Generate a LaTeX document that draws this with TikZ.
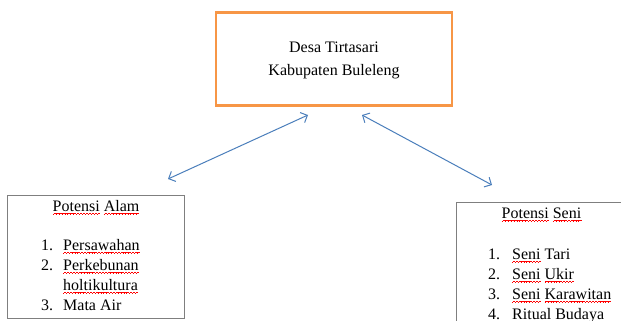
\documentclass[tikz,border=0pt]{standalone}
\usepackage{fontspec}
\setmainfont{Liberation Serif}
\usetikzlibrary{arrows.meta}
\definecolor{desaorange}{HTML}{F79646}
\definecolor{panahblue}{HTML}{4A7EBB}
\definecolor{boxgray}{HTML}{7F7F7F}
\newsavebox{\salahbox}
\newcommand{\salahgelombang}{\hbox{\rule[-3.4pt]{.7pt}{.6pt}\rule[-2.9pt]{.7pt}{.6pt}\rule[-2.4pt]{.7pt}{.6pt}\rule[-2.9pt]{.7pt}{.6pt}}}
\newcommand{\salah}[1]{\sbox{\salahbox}{#1}%
  \rlap{\color{red}\hbox to \wd\salahbox{\xleaders\salahgelombang\hfill}}\usebox{\salahbox}}

\begin{document}
\begin{tikzpicture}[x=1pt,y=-1pt]
  \tikzstyle{every node}=[font=\fontsize{16}{20}\selectfont, inner sep=0pt]
  \tikzstyle{desabox}=[draw=desaorange, line width=2.6pt, minimum width=236pt, minimum height=93pt, align=center]
  \tikzstyle{potensibox}=[draw=boxgray, line width=0.8pt]
  \tikzstyle{panah}=[draw=panahblue, line width=1pt, {Straight Barb[length=5.5pt,width=11pt]}-{Straight Barb[length=5.5pt,width=11pt]}]
  \useasboundingbox (0,0) rectangle (621,321);

  \node[desabox] (desa) at (334,59) {};
  \node (desateks) at (334,60) [align=center] {Desa Tirtasari\\[3pt]Kabupaten Buleleng};

  \node[potensibox, minimum width=177pt, minimum height=123pt] (alam) at (95.5,256.5) {};
  \node[anchor=base] (alamjudul) at (96,211) {\salah{Potensi} \salah{Alam}};
  \node[anchor=base west] (alamdaftar) at (41,250) {\begin{tabular}[t]{@{}r@{\hspace{10pt}}l@{}}
    1. & \salah{Persawahan}\\
    2. & \salah{Perkebunan}\\
       & \salah{holtikultura}\\
    3. & Mata Air
  \end{tabular}};

  \coordinate (seni) at (456,202);
  \draw[potensibox] (621,202) -- (seni) -- (456,321);
  \node[anchor=base] (senijudul) at (541.5,218) {\salah{Potensi} \salah{Seni}};
  \node[anchor=base west] (senidaftar) at (488,259) {\begin{tabular}[t]{@{}r@{\hspace{12pt}}l@{}}
    1. & \salah{Seni} Tari\\
    2. & \salah{Seni} \salah{Ukir}\\
    3. & \salah{Seni} \salah{Karawitan}\\
    4. & Ritual Budaya
  \end{tabular}};

  \coordinate (desakiri) at (308,115);
  \coordinate (alamujung) at (168,179);
  \coordinate (desakanan) at (362,115);
  \coordinate (seniujung) at (492,185);
  \draw[panah] (alamujung) -- (desakiri);
  \draw[panah] (desakanan) -- (seniujung);
\end{tikzpicture}
\end{document}
